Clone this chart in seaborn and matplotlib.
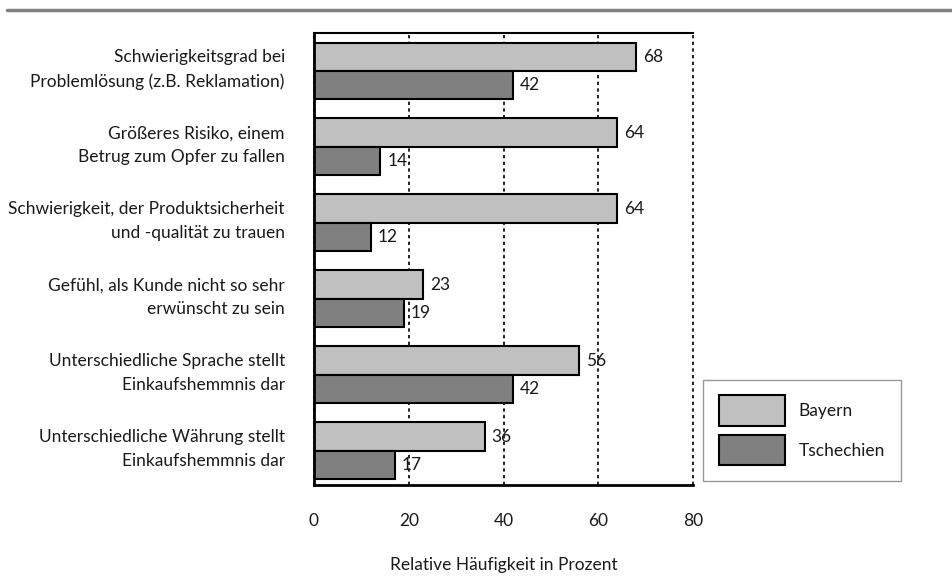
import matplotlib
matplotlib.use("Agg")
import matplotlib.pyplot as plt
from matplotlib.lines import Line2D
from matplotlib.transforms import ScaledTranslation
import seaborn as sns
import pandas as pd

# Survey items (y axis) and shares per country in percent
categories = [
    "Schwierigkeitsgrad bei\nProblemlösung (z.B. Reklamation)",
    "Größeres Risiko, einem\nBetrug zum Opfer zu fallen",
    "Schwierigkeit, der Produktsicherheit\nund -qualität zu trauen",
    "Gefühl, als Kunde nicht so sehr\nerwünscht zu sein",
    "Unterschiedliche Sprache stellt\nEinkaufshemmnis dar",
    "Unterschiedliche Währung stellt\nEinkaufshemmnis dar",
]
bayern = [68, 64, 64, 23, 56, 36]
tschechien = [42, 14, 12, 19, 42, 17]
series_names = ["Bayern", "Tschechien"]
x_ticks = [0, 20, 40, 60, 80]
x_label = "Relative Häufigkeit in Prozent"

df = pd.DataFrame({
    "Kategorie": categories * 2,
    "Wert": bayern + tschechien,
    "Land": [series_names[0]] * len(categories) + [series_names[1]] * len(categories),
})

sns.set_theme(style="white")
plt.rcParams["font.family"] = ["Lato", "DejaVu Sans"]
text_color = "#1a1a1a"
fs = 12.5

fig = plt.figure(figsize=(9.52, 5.76), dpi=100)
ax = fig.add_axes([0.3298, 0.158, 0.7280 - 0.3298, 0.9427 - 0.158])

sns.barplot(
    data=df, y="Kategorie", x="Wert", hue="Land", orient="h",
    palette=["#c0c0c0", "#808080"], edgecolor="black", linewidth=1.5,
    width=0.75, saturation=1, ax=ax, legend=True,
)

for cont in ax.containers:
    ax.bar_label(cont, fmt="%d", padding=5, fontsize=fs, color=text_color)

ax.set_xlim(0, 80)
ax.set_ylim(5.45, -0.5)
ax.set_xticks(x_ticks)
ax.set_xticklabels([str(t) for t in x_ticks], fontsize=fs, color=text_color)
ax.set_xlabel(x_label, fontsize=fs, color=text_color, labelpad=20)
ax.set_ylabel("")
ax.tick_params(axis="y", length=0, pad=21, labelsize=fs, labelcolor=text_color)
ax.tick_params(axis="x", direction="out", length=8, width=2, color="black", pad=12)
lift = ScaledTranslation(0, 5 / 72, fig.dpi_scale_trans)
for lbl in ax.get_yticklabels():
    lbl.set_linespacing(1.6)
    lbl.set_transform(lbl.get_transform() + lift)

ax.xaxis.grid(True, color="black", linestyle=(0, (2, 2)), linewidth=1.2)
ax.yaxis.grid(False)
ax.set_axisbelow(True)
for gl in ax.get_xgridlines():
    gl.set_clip_on(False)

for side in ["left", "bottom"]:
    ax.spines[side].set_color("black")
    ax.spines[side].set_linewidth(2)
ax.spines["top"].set_color("black")
ax.spines["top"].set_linewidth(1.5)
ax.spines["right"].set_visible(False)

handles, labels = ax.get_legend_handles_labels()
ax.legend_.remove()
leg = fig.legend(
    handles, labels, loc="lower left", bbox_to_anchor=(0.7385, 0.165),
    frameon=True, fancybox=False, edgecolor="#808080", fontsize=fs,
    handlelength=3.8, handleheight=2.3, handletextpad=0.8,
    labelspacing=0.55, borderpad=0.9, borderaxespad=0,
)
leg.get_frame().set_linewidth(1.0)
for t in leg.get_texts():
    t.set_color(text_color)
for h in leg.legend_handles:
    h.set_edgecolor("black")
    h.set_linewidth(1.5)

# Grey rule across the top of the page
fig.add_artist(Line2D([0.007, 1.0], [1 - 10 / 576, 1 - 10 / 576],
                      transform=fig.transFigure, color="#808080", linewidth=2.5))

fig.savefig("out.png", dpi=100)
